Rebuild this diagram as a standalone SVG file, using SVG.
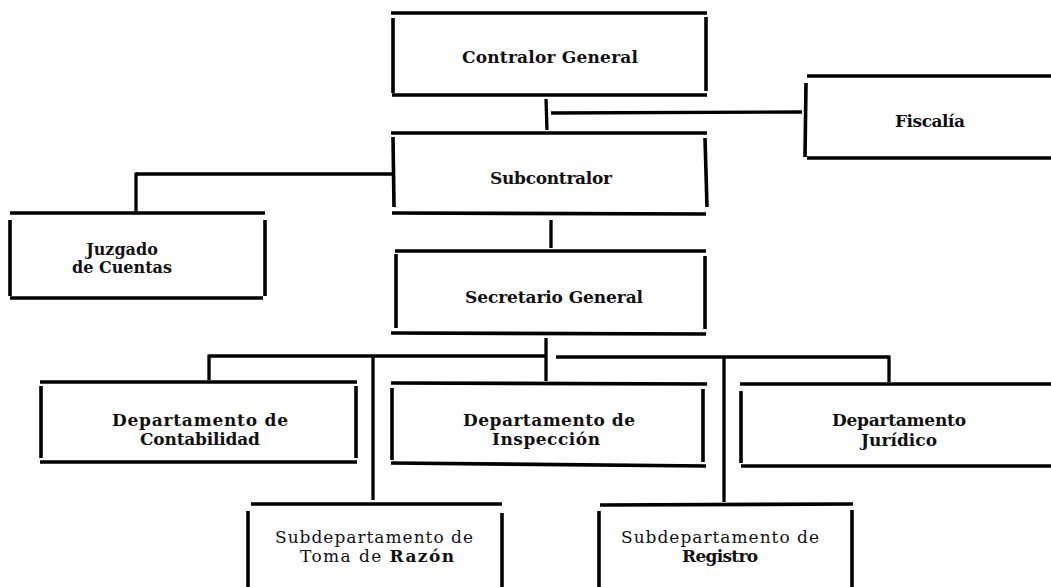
<svg xmlns="http://www.w3.org/2000/svg" width="1051" height="587" viewBox="0 0 1051 587">
<style>
  .ln { stroke: #000; stroke-width: 3.6; stroke-linecap: butt; fill: none; }
  .cn { stroke: #000; stroke-width: 3.3; fill: none; }
  .t { font-family: "DejaVu Serif", "Liberation Serif", serif; font-size: 17px; font-weight: bold; fill: #111; text-anchor: middle; }
  .s { font-size: 16px; }
  .r { font-weight: normal; }
</style>
<rect width="1051" height="587" fill="#fff"/>

<g id="connectors">
  <line class="cn" x1="546" y1="99" x2="547" y2="130"/>
  <line class="cn" x1="551" y1="113" x2="802" y2="112"/>
  <line class="cn" x1="136" y1="174" x2="392" y2="174"/>
  <line class="cn" x1="136" y1="172.5" x2="136" y2="213"/>
  <line class="cn" x1="551" y1="220" x2="551" y2="248"/>
  <line class="cn" x1="546" y1="338" x2="546" y2="381"/>
  <line class="cn" x1="209" y1="356" x2="546" y2="356"/>
  <line class="cn" x1="209" y1="354.5" x2="209" y2="380"/>
  <line class="cn" x1="373" y1="356" x2="373" y2="500"/>
  <line class="cn" x1="556" y1="357" x2="889" y2="357"/>
  <line class="cn" x1="889" y1="355.5" x2="889" y2="382"/>
  <line class="cn" x1="724" y1="357" x2="724" y2="502"/>
</g>

<g id="contralor-general">
  <line class="ln" x1="391" y1="13" x2="707" y2="13"/>
  <line class="ln" x1="393" y1="18" x2="393" y2="93"/>
  <line class="ln" x1="706" y1="17" x2="706" y2="91"/>
  <line class="ln" x1="392" y1="95" x2="707" y2="95"/>
  <text class="t" x="550" y="63" textLength="176">Contralor General</text>
</g>

<g id="fiscalia">
  <line class="ln" x1="807" y1="76" x2="1051" y2="76"/>
  <line class="ln" x1="806" y1="83" x2="805" y2="157"/>
  <line class="ln" x1="807" y1="158" x2="1051" y2="158"/>
  <text class="t" x="930" y="127" textLength="70">Fiscalía</text>
</g>

<g id="subcontralor">
  <line class="ln" x1="391" y1="133" x2="707" y2="133"/>
  <line class="ln" x1="393" y1="137" x2="394" y2="207"/>
  <line class="ln" x1="705" y1="138" x2="707" y2="207"/>
  <line class="ln" x1="392" y1="213" x2="706" y2="214"/>
  <text class="t" x="551" y="184" textLength="122">Subcontralor</text>
</g>

<g id="juzgado">
  <line class="ln" x1="10" y1="213" x2="265" y2="213"/>
  <line class="ln" x1="10" y1="220" x2="10" y2="296"/>
  <line class="ln" x1="265" y1="220" x2="265" y2="296"/>
  <line class="ln" x1="10" y1="298" x2="263" y2="298"/>
  <text class="t s" x="122" y="255">Juzgado</text>
  <text class="t s" x="122" y="273">de Cuentas</text>
</g>

<g id="secretario-general">
  <line class="ln" x1="395" y1="251" x2="706" y2="251"/>
  <line class="ln" x1="396" y1="254" x2="396" y2="328"/>
  <line class="ln" x1="705" y1="256" x2="705" y2="329"/>
  <line class="ln" x1="391" y1="333" x2="706" y2="334"/>
  <text class="t" x="554" y="303" textLength="178">Secretario General</text>
</g>

<g id="contabilidad">
  <line class="ln" x1="40" y1="382" x2="357" y2="382"/>
  <line class="ln" x1="41" y1="386" x2="41" y2="458"/>
  <line class="ln" x1="356" y1="386" x2="356" y2="458"/>
  <line class="ln" x1="40" y1="462" x2="357" y2="462"/>
  <text class="t" x="200" y="426" textLength="176">Departamento de</text>
  <text class="t" x="200" y="445" textLength="120">Contabilidad</text>
</g>

<g id="inspeccion">
  <line class="ln" x1="391" y1="383" x2="707" y2="384"/>
  <line class="ln" x1="392" y1="388" x2="392" y2="460"/>
  <line class="ln" x1="703" y1="389" x2="703" y2="462"/>
  <line class="ln" x1="391" y1="463" x2="706" y2="466"/>
  <text class="t" x="549" y="426" textLength="172">Departamento de</text>
  <text class="t" x="546" y="445" textLength="108">Inspección</text>
</g>

<g id="juridico">
  <line class="ln" x1="740" y1="384" x2="1051" y2="384"/>
  <line class="ln" x1="741" y1="391" x2="741" y2="463"/>
  <line class="ln" x1="741" y1="466" x2="1051" y2="466"/>
  <text class="t" x="899" y="426" textLength="134">Departamento</text>
  <text class="t" x="899" y="446" textLength="76">Jurídico</text>
</g>

<g id="toma-de-razon">
  <line class="ln" x1="251" y1="504" x2="502" y2="504"/>
  <line class="ln" x1="248" y1="511" x2="248" y2="587"/>
  <line class="ln" x1="502" y1="513" x2="502" y2="587"/>
  <text class="t r" x="374" y="543" textLength="198">Subdepartamento de</text>
  <text class="t r" x="377" y="562" textLength="154">Toma de <tspan font-weight="bold">Razón</tspan></text>
</g>

<g id="registro">
  <line class="ln" x1="600" y1="505" x2="853" y2="504"/>
  <line class="ln" x1="599" y1="511" x2="599" y2="587"/>
  <line class="ln" x1="852" y1="510" x2="852" y2="587"/>
  <text class="t r" x="720" y="543" textLength="198">Subdepartamento de</text>
  <text class="t" x="720" y="562" textLength="76">Registro</text>
</g>
</svg>
